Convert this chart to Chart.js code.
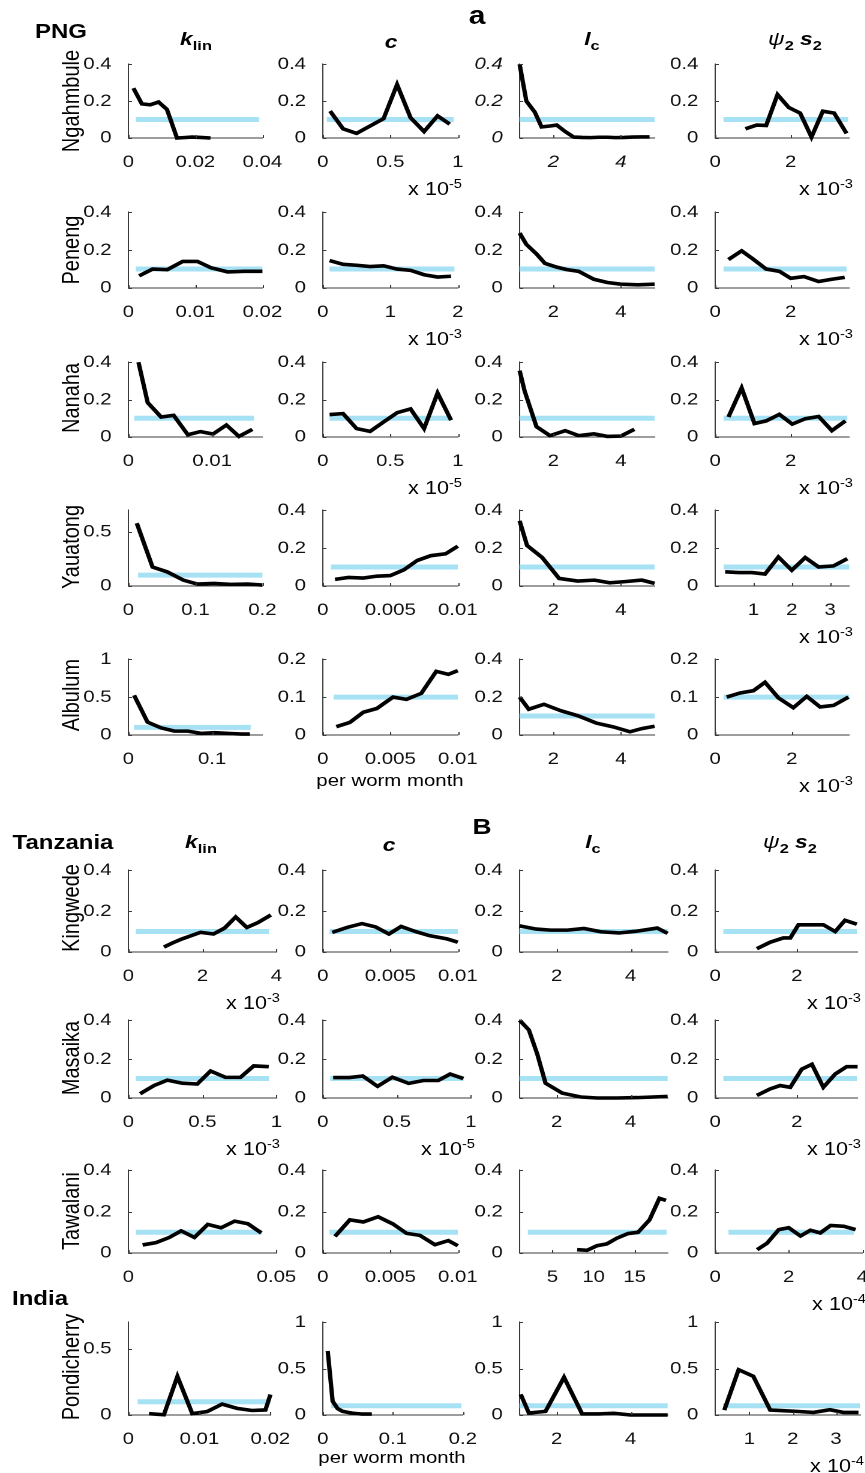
<!DOCTYPE html>
<html>
<head>
<meta charset="utf-8">
<script src="https://cdn.jsdelivr.net/npm/chart.js@4.4.0/dist/chart.umd.min.js"></script>
<style>
  html, body { margin: 0; padding: 0; background: #fff; overflow: hidden; }
  #fig {
    position: relative; width: 721px; height: 1473px;
    transform: scaleX(1.2); transform-origin: 0 0;
    font-family: "Liberation Sans", Arial, sans-serif; color: #000;
  }
  #fig canvas { position: absolute; }
  .lbl { position: absolute; white-space: nowrap; line-height: 1; }
  .lbl sub { font-size: 72%; vertical-align: -0.35em; }
  .lbl sup { font-size: 68%; vertical-align: 0.6em; }
</style>
</head>
<body>
<div id="fig"></div>
<script>
// sites (rows) and parameters (columns)
const sites = ['Ngahmbule', 'Peneng', 'Nanaha', 'Yauatong', 'Albulum', 'Kingwede', 'Masaika', 'Tawalani', 'Pondicherry'];
const refLevel = 0.1;

// ---- k_lin ----
const klinX = [
  [0.0015, 0.004, 0.0065, 0.009, 0.0115, 0.0145, 0.0165, 0.019, 0.0215, 0.0245],
  [0.0016, 0.0036, 0.0058, 0.0081, 0.0103, 0.0123, 0.0148, 0.0173, 0.02],
  [0.0012, 0.0023, 0.0039, 0.0054, 0.0071, 0.0086, 0.0101, 0.0117, 0.0132, 0.0148],
  [0.0125, 0.036, 0.058, 0.082, 0.103, 0.128, 0.153, 0.178, 0.2],
  [0.0068, 0.0228, 0.0388, 0.055, 0.071, 0.087, 0.103, 0.119, 0.135, 0.145],
  [0.96, 1.2, 1.45, 1.7, 1.95, 2.3, 2.6, 2.9, 3.2, 3.5, 3.85],
  [0.079, 0.173, 0.263, 0.364, 0.465, 0.555, 0.656, 0.757, 0.847, 0.948],
  [0.0048, 0.0093, 0.0138, 0.0178, 0.0223, 0.0268, 0.0313, 0.0359, 0.0404, 0.0449],
  [0.0029, 0.005, 0.0069, 0.009, 0.0111, 0.0132, 0.0153, 0.0174, 0.0193, 0.02]
];
const klinY = [
  [0.27, 0.185, 0.18, 0.195, 0.155, 0.0, 0.002, 0.005, 0.003, 0.0],
  [0.064, 0.1, 0.097, 0.14, 0.14, 0.107, 0.085, 0.088, 0.088],
  [0.4, 0.184, 0.107, 0.116, 0.012, 0.029, 0.016, 0.064, 0.003, 0.041],
  [0.58, 0.175, 0.13, 0.054, 0.018, 0.024, 0.015, 0.018, 0.009],
  [0.523, 0.17, 0.094, 0.051, 0.051, 0.021, 0.03, 0.021, 0.013, 0.013],
  [0.024, 0.045, 0.064, 0.08, 0.096, 0.088, 0.117, 0.171, 0.12, 0.144, 0.181],
  [0.022, 0.064, 0.092, 0.076, 0.072, 0.139, 0.106, 0.106, 0.165, 0.161],
  [0.039, 0.05, 0.075, 0.107, 0.075, 0.138, 0.122, 0.154, 0.141, 0.097],
  [0.01, 0.002, 0.291, 0.01, 0.026, 0.082, 0.05, 0.034, 0.038, 0.154]
];
const klinXRange = [[0, 0.04], [0, 0.02], [0, 0.016], [0, 0.2], [0, 0.16], [0, 4], [0, 1], [0, 0.05], [0, 0.02]];
const klinXTicks = [[0, 0.02, 0.04], [0, 0.01, 0.02], [0, 0.01], [0, 0.1, 0.2], [0, 0.1], [0, 2, 4], [0, 0.5, 1], [0, 0.05], [0, 0.01, 0.02]];
const klinRef = [[0.0022, 0.039], [0.0011, 0.02], [0.0007, 0.015], [0.0145, 0.2], [0.0068, 0.146], [0.2, 3.8], [0.05, 0.95], [0.0025, 0.045], [0.0013, 0.02]];
const klinYMax = [0.4, 0.4, 0.4, 0.7, 1, 0.4, 0.4, 0.4, 0.7];
const klinExp = [null, null, null, null, null, -3, -3, null, null];

// ---- c ----
const cX = [
  [0.054, 0.15, 0.25, 0.35, 0.45, 0.55, 0.65, 0.75, 0.85, 0.94],
  [0.1, 0.3, 0.5, 0.7, 0.9, 1.1, 1.3, 1.5, 1.7, 1.9],
  [0.05, 0.15, 0.25, 0.35, 0.45, 0.55, 0.65, 0.75, 0.85, 0.95],
  [0.0009, 0.0019, 0.003, 0.004, 0.005, 0.006, 0.007, 0.008, 0.0091, 0.01],
  [0.001, 0.002, 0.003, 0.004, 0.0052, 0.0062, 0.0073, 0.0084, 0.0093, 0.01],
  [0.0007, 0.0018, 0.0029, 0.0039, 0.0049, 0.0058, 0.0069, 0.0079, 0.0092, 0.01],
  [0.07, 0.18, 0.27, 0.37, 0.47, 0.58, 0.68, 0.78, 0.86, 0.95],
  [0.0009, 0.002, 0.003, 0.0041, 0.0052, 0.0062, 0.0072, 0.0083, 0.0093, 0.01],
  [0.007, 0.014, 0.021, 0.028, 0.035, 0.042, 0.049, 0.056, 0.063, 0.07]
];
const cY = [
  [0.146, 0.05, 0.025, 0.065, 0.105, 0.29, 0.11, 0.035, 0.12, 0.075],
  [0.145, 0.125, 0.12, 0.113, 0.117, 0.1, 0.093, 0.07, 0.058, 0.062],
  [0.12, 0.125, 0.045, 0.03, 0.08, 0.13, 0.15, 0.045, 0.235, 0.09],
  [0.035, 0.045, 0.042, 0.052, 0.055, 0.085, 0.135, 0.16, 0.17, 0.21],
  [0.022, 0.033, 0.06, 0.07, 0.1, 0.094, 0.11, 0.168, 0.16, 0.17],
  [0.096, 0.12, 0.139, 0.123, 0.088, 0.125, 0.099, 0.08, 0.064, 0.048],
  [0.105, 0.105, 0.113, 0.06, 0.107, 0.075, 0.09, 0.09, 0.123, 0.1],
  [0.08, 0.16, 0.15, 0.175, 0.14, 0.095, 0.085, 0.04, 0.06, 0.035],
  [0.69, 0.15, 0.07, 0.04, 0.03, 0.02, 0.015, 0.01, 0.01, 0.01]
];
const cXRange = [[0, 1], [0, 2], [0, 1], [0, 0.01], [0, 0.01], [0, 0.01], [0, 1], [0, 0.01], [0, 0.2]];
const cXTicks = [[0, 0.5, 1], [0, 1, 2], [0, 0.5, 1], [0, 0.005, 0.01], [0, 0.005, 0.01], [0, 0.005, 0.01], [0, 0.5, 1], [0, 0.005, 0.01], [0, 0.1, 0.2]];
const cRef = [[0.03, 0.97], [0.1, 1.95], [0.05, 0.95], [0.0006, 0.01], [0.0008, 0.01], [0.0005, 0.01], [0.05, 0.95], [0.0005, 0.01], [0.012, 0.198]];
const cYMax = [0.4, 0.4, 0.4, 0.4, 0.2, 0.4, 0.4, 0.4, 1];
const cExp = [-5, -3, -5, null, null, null, -5, null, null];

// ---- l_c ----
const lcX = [
  [1.0, 1.2, 1.45, 1.65, 1.9, 2.1, 2.35, 2.6, 2.85, 3.1, 3.35, 3.6, 3.85, 4.1, 4.35, 4.6, 4.85],
  [1.0, 1.2, 1.5, 1.75, 2.1, 2.4, 2.75, 3.2, 3.6, 4.0, 4.5, 5.0],
  [1.0, 1.15, 1.5, 1.9, 2.35, 2.75, 3.2, 3.6, 4.0, 4.4],
  [1.0, 1.22, 1.67, 2.17, 2.72, 3.22, 3.67, 4.12, 4.62, 5.0],
  [1.0, 1.27, 1.72, 2.22, 2.72, 3.27, 3.77, 4.27, 4.62, 5.0],
  [1.0, 1.45, 1.84, 2.29, 2.74, 3.19, 3.68, 4.13, 4.72, 5.0],
  [1.0, 1.25, 1.48, 1.7, 2.15, 2.65, 3.1, 3.64, 4.18, 5.0],
  [8.0, 9.2, 10.4, 11.6, 12.8, 14.2, 15.4, 16.8, 18.0, 18.8],
  [1.03, 1.25, 1.7, 2.2, 2.69, 3.14, 3.55, 4.0, 4.54, 5.0]
];
const lcY = [
  [0.4, 0.2, 0.14, 0.06, 0.065, 0.07, 0.035, 0.005, 0.003, 0.002, 0.004, 0.004, 0.002, 0.003, 0.005, 0.006, 0.006],
  [0.29, 0.23, 0.18, 0.13, 0.11, 0.097, 0.088, 0.046, 0.029, 0.02, 0.017, 0.02],
  [0.355, 0.245, 0.055, 0.007, 0.034, 0.007, 0.017, 0.003, 0.005, 0.041],
  [0.344, 0.214, 0.15, 0.04, 0.026, 0.031, 0.017, 0.023, 0.031, 0.014],
  [0.2, 0.136, 0.162, 0.128, 0.102, 0.063, 0.043, 0.017, 0.034, 0.046],
  [0.128, 0.112, 0.107, 0.107, 0.115, 0.099, 0.093, 0.101, 0.117, 0.091],
  [0.4, 0.35, 0.224, 0.076, 0.025, 0.005, 0.0, 0.0, 0.002, 0.008],
  [0.016, 0.013, 0.035, 0.044, 0.071, 0.094, 0.1, 0.16, 0.264, 0.254],
  [0.223, 0.021, 0.039, 0.406, 0.011, 0.011, 0.018, 0.0, 0.0, 0.0]
];
const lcXRange = [[1, 5], [1, 5], [1, 5], [1, 5], [1, 5], [1, 5], [1, 5], [1, 19], [1, 5]];
const lcXTicks = [[2, 4], [2, 4], [2, 4], [2, 4], [2, 4], [2, 4], [2, 4], [5, 10, 15], [2, 4]];
const lcRef = [[1, 5], [1, 5], [1, 5], [1, 5], [1, 5], [1, 5], [1, 5], [2, 18.9], [1, 5]];
const lcYMax = [0.4, 0.4, 0.4, 0.4, 0.4, 0.4, 0.4, 0.4, 1];
const lcExp = [null, null, null, null, null, null, null, null, null];

// ---- psi_2 s_2 ----
const psiX = [
  [0.8, 1.1, 1.35, 1.65, 1.95, 2.25, 2.55, 2.85, 3.15, 3.48],
  [0.35, 0.7, 1.0, 1.35, 1.7, 2.0, 2.35, 2.74, 3.09, 3.43],
  [0.35, 0.7, 1.04, 1.35, 1.7, 2.04, 2.39, 2.74, 3.09, 3.45],
  [0.26, 0.61, 0.96, 1.3, 1.65, 2.0, 2.35, 2.7, 3.09, 3.45],
  [0.3, 0.65, 1.0, 1.3, 1.65, 2.04, 2.39, 2.74, 3.09, 3.48],
  [1.02, 1.35, 1.67, 1.84, 2.04, 2.33, 2.65, 2.94, 3.18, 3.47],
  [1.02, 1.35, 1.59, 1.84, 2.12, 2.37, 2.65, 2.94, 3.22, 3.49],
  [1.14, 1.41, 1.73, 2.0, 2.32, 2.59, 2.86, 3.14, 3.5, 3.82],
  [0.42, 0.75, 1.09, 1.48, 1.78, 2.09, 2.48, 2.86, 3.17, 3.52]
];
const psiY = [
  [0.05, 0.07, 0.068, 0.235, 0.165, 0.135, 0.005, 0.145, 0.135, 0.025],
  [0.15, 0.196, 0.153, 0.1, 0.088, 0.051, 0.06, 0.034, 0.046, 0.056],
  [0.107, 0.262, 0.072, 0.086, 0.121, 0.069, 0.098, 0.11, 0.034, 0.086],
  [0.075, 0.071, 0.071, 0.063, 0.153, 0.083, 0.15, 0.1, 0.106, 0.144],
  [0.1, 0.111, 0.117, 0.139, 0.098, 0.072, 0.102, 0.074, 0.078, 0.1],
  [0.016, 0.048, 0.069, 0.069, 0.133, 0.133, 0.133, 0.1, 0.155, 0.136],
  [0.013, 0.047, 0.064, 0.055, 0.148, 0.173, 0.055, 0.123, 0.161, 0.161],
  [0.016, 0.047, 0.113, 0.122, 0.082, 0.11, 0.097, 0.133, 0.129, 0.113],
  [0.053, 0.488, 0.417, 0.053, 0.046, 0.039, 0.028, 0.057, 0.028, 0.028]
];
const psiXRange = [[0, 3.55], [0, 3.55], [0, 3.55], [0, 3.5], [0, 3.5], [0, 3.48], [0, 3.48], [0, 4], [0.21, 3.56]];
const psiXTicks = [[0, 2], [0, 2], [0, 2], [1, 2, 3], [0, 2], [0, 2], [0, 2], [0, 2, 4], [1, 2, 3]];
const psiRef = [[0.22, 3.52], [0.22, 3.48], [0.22, 3.5], [0.22, 3.5], [0.22, 3.5], [0.2, 3.47], [0.2, 3.47], [0.36, 3.77], [0.39, 3.55]];
const psiYMax = [0.4, 0.4, 0.4, 0.4, 0.2, 0.4, 0.4, 0.4, 1];
const psiExp = [-3, -3, -3, -3, -3, -3, -3, -4, -4];

const yTickSets = { 0.2: [0, 0.1, 0.2], 0.4: [0, 0.2, 0.4], 0.7: [0, 0.5], 1: [0, 0.5, 1] };

// ---- layout (pixels in the final picture) ----
const SX = 1.2;                      // whole figure is stretched horizontally
const YW = 46, PR = 26, PT = 14, XH = 36;
const FONT = '"Liberation Sans", Arial, sans-serif';
const colLeft = [128, 323, 519, 715];
const rowTop = [62, 210, 360, 508, 657, 868, 1018, 1168, 1320];
const rowH = [76, 78, 77, 78, 78, 84, 80, 85, 95];
const plotW = [
  [134, 135, 135, 134], [134, 135, 135, 134], [134, 135, 135, 134], [134, 135, 135, 134], [134, 135, 135, 134],
  [148, 135, 148, 142], [148, 148, 148, 142], [148, 135, 148, 147], [142, 140, 148, 145]
];

const fig = document.getElementById('fig');

const inwardTicks = {
  id: 'inwardTicks',
  afterDraw(chart) {
    const { ctx, chartArea: a, scales: { x, y } } = chart;
    ctx.save();
    ctx.strokeStyle = '#3a3a3a';
    ctx.lineWidth = 1;
    ctx.beginPath();
    x.ticks.forEach(t => {
      const px = Math.round(x.getPixelForValue(t.value)) + 0.5;
      ctx.moveTo(px, a.bottom); ctx.lineTo(px, a.bottom - 3);
    });
    y.ticks.forEach(t => {
      const py = Math.round(y.getPixelForValue(t.value)) + 0.5;
      ctx.moveTo(a.left, py); ctx.lineTo(a.left + 3, py);
    });
    ctx.stroke();
    ctx.restore();
  }
};

function label(html, x, y, css) {
  const d = document.createElement('div');
  d.className = 'lbl';
  d.innerHTML = html;
  d.style.left = (x / SX) + 'px';
  d.style.top = y + 'px';
  d.style.transform = 'translate(-50%, -50%)';
  Object.assign(d.style, css || {});
  fig.appendChild(d);
  return d;
}

const columns = [
  { xs: klinX, ys: klinY, range: klinXRange, ticks: klinXTicks, ref: klinRef, ymax: klinYMax, exp: klinExp },
  { xs: cX, ys: cY, range: cXRange, ticks: cXTicks, ref: cRef, ymax: cYMax, exp: cExp },
  { xs: lcX, ys: lcY, range: lcXRange, ticks: lcXTicks, ref: lcRef, ymax: lcYMax, exp: lcExp },
  { xs: psiX, ys: psiY, range: psiXRange, ticks: psiXTicks, ref: psiRef, ymax: psiYMax, exp: psiExp }
];

function makePlot(r, k) {
  const col = columns[k];
  const w = plotW[r][k] / SX, h = rowH[r];
  const cw = YW + w + PR, ch = PT + h + XH;
  const canvas = document.createElement('canvas');
  canvas.width = Math.round(cw);
  canvas.height = ch;
  canvas.style.left = (colLeft[k] / SX - YW) + 'px';
  canvas.style.top = (rowTop[r] - PT) + 'px';
  canvas.style.width = Math.round(cw) + 'px';
  canvas.style.height = ch + 'px';
  fig.appendChild(canvas);

  const italic = (r === 0 && k === 2) ? 'italic' : 'normal';
  const tickFont = { family: FONT, size: 17, style: italic };
  const xt = col.ticks[r];
  const yt = yTickSets[col.ymax[r]];

  new Chart(canvas, {
    type: 'line',
    data: {
      datasets: [
        {
          data: col.xs[r].map((x, i) => ({ x, y: col.ys[r][i] })),
          borderColor: '#000', borderWidth: 3.6, pointRadius: 0, tension: 0, clip: false,
          borderJoinStyle: 'miter'
        },
        {
          data: col.ref[r].map(x => ({ x, y: refLevel })),
          borderColor: '#a6e1f4', borderWidth: 5, pointRadius: 0, clip: false
        }
      ]
    },
    options: {
      responsive: false,
      animation: false,
      devicePixelRatio: 2,
      layout: { padding: { left: 0, top: PT, right: Math.round(cw) - YW - w, bottom: 0 } },
      plugins: { legend: { display: false }, tooltip: { enabled: false } },
      scales: {
        x: {
          type: 'linear', min: col.range[r][0], max: col.range[r][1],
          afterBuildTicks: s => { s.ticks = xt.map(v => ({ value: v })); },
          afterFit: s => { s.height = XH; },
          grid: { display: false },
          border: { display: true, color: '#3a3a3a', width: 1 },
          ticks: { color: '#111', padding: 6, maxRotation: 0, autoSkip: false, font: tickFont, callback: v => String(v) }
        },
        y: {
          type: 'linear', min: 0, max: col.ymax[r],
          afterBuildTicks: s => { s.ticks = yt.map(v => ({ value: v })); },
          afterFit: s => { s.width = YW; },
          grid: { display: false },
          border: { display: true, color: '#3a3a3a', width: 1 },
          ticks: { color: '#111', padding: 6, autoSkip: false, font: tickFont, callback: v => String(v) }
        }
      }
    },
    plugins: [inwardTicks]
  });

  if (col.exp[r] !== null) {
    const right = colLeft[k] + plotW[r][k] + 4;
    label('x 10<sup>' + col.exp[r] + '</sup>', right, rowTop[r] + rowH[r] + 50,
      { fontSize: '18px', transform: 'translate(-100%, -50%)' });
  }
}

for (let r = 0; r < sites.length; r++) {
  for (let k = 0; k < 4; k++) makePlot(r, k);
}

// row labels
const rowLabelY = [101, 250, 398, 547, 695, 908, 1058, 1211, 1367];
sites.forEach((s, r) => {
  label(s, 71, rowLabelY[r], { fontSize: '20px', transform: 'translate(-50%, -50%) rotate(-90deg)' });
});

// column titles
const titles = [
  '<b><i>k</i><sub>lin</sub></b>',
  '<b><i>c</i></b>',
  '<b><i>l</i><sub>c</sub></b>',
  '<i>&psi;</i><b><sub>2</sub> <i>s</i><sub>2</sub></b>'
];
const titleXA = [196, 391, 592, 795];
const titleXB = [201, 389, 593, 790];
titles.forEach((t, k) => {
  label(t, titleXA[k], 41, { fontSize: '19px' });
  label(t, titleXB[k], 844, { fontSize: '19px' });
});

// section headings
label('<b>PNG</b>', 61, 31, { fontSize: '20px' });
label('<b>a</b>', 477, 15, { fontSize: '25px' });
label('<b>Tanzania</b>', 63, 842, { fontSize: '20px' });
label('<b>B</b>', 482, 827, { fontSize: '22px' });
label('<b>India</b>', 40, 1298, { fontSize: '20px' });

// x axis note
label('per worm month', 390, 780, { fontSize: '17px' });
label('per worm month', 392, 1457, { fontSize: '17px' });
</script>
</body>
</html>
